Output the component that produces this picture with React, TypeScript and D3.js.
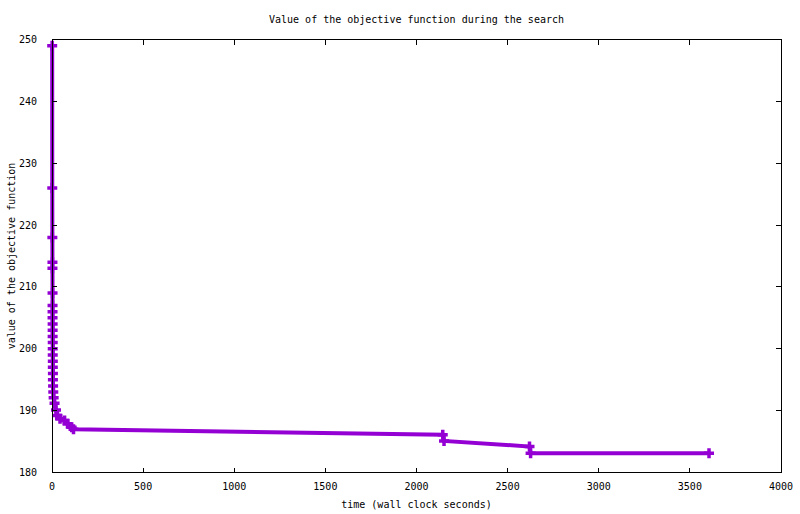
import { useEffect, useRef } from 'react';
import * as d3 from 'd3';

// search trace: wall clock seconds vs objective value
const times = [
  1, 1.5, 2, 2.5, 2.5, 3, 3, 3, 3, 3.5, 3.5, 3.5, 4, 4, 4, 4.5, 4.5, 5, 5, 6, 7,
  9, 14, 22, 30, 44, 69, 85, 108, 118, 2144, 2151, 2620, 2626, 3605,
];
const values = [
  249, 226, 218, 214, 213, 209, 207, 206, 205, 204, 203, 202, 201, 200, 199, 198,
  197, 196, 195, 194, 193, 192.1, 191.2, 190.1, 189.2, 188.7, 188.4, 187.9, 187.3,
  187.0, 186.1, 185.1, 184.2, 183.1, 183.1,
];
const xTicks = [0, 500, 1000, 1500, 2000, 2500, 3000, 3500, 4000];
const yTicks = [180, 190, 200, 210, 220, 230, 240, 250];

const W = 800;
const H = 514;
const FONT = '"DejaVu Sans Mono", "Liberation Mono", monospace';
const PURPLE = '#9400d3';

export default function App() {
  const svgRef = useRef<SVGSVGElement>(null);

  useEffect(() => {
    if (!svgRef.current) return;
    const svg = d3.select(svgRef.current);
    svg.selectAll('*').remove();

    const left = 52;
    const right = 781;
    const top = 39.5;
    const bottom = 472.5;

    const x = d3.scaleLinear().domain([0, 4000]).range([left, right]);
    const y = d3.scaleLinear().domain([180, 250]).range([bottom, top]);

    svg.append('rect').attr('width', W).attr('height', H).attr('fill', '#fff');

    const text = (tx: number, ty: number, s: string, anchor = 'middle') =>
      svg.append('text')
        .attr('x', tx)
        .attr('y', ty)
        .attr('text-anchor', anchor)
        .attr('font-family', FONT)
        .attr('font-size', '10px')
        .attr('fill', '#000')
        .text(s);

    // Title and axis labels
    text((left + right) / 2, 23, 'Value of the objective function during the search');
    text((left + right) / 2, 507.5, 'time (wall clock seconds)');
    text(0, 0, 'value of the objective function')
      .attr('transform', `translate(15, ${(top + bottom) / 2}) rotate(-90)`);

    // Tick labels
    xTicks.forEach((t) => text(x(t), 490, String(t)));
    yTicks.forEach((t) => text(37, y(t) + 3.5, String(t), 'end'));

    // Data line and markers
    const pts: [number, number][] = times.map((t, i) => [t, values[i]]);
    const line = d3.line<[number, number]>()
      .x((d) => x(d[0]))
      .y((d) => y(d[1]));

    svg.append('path')
      .attr('d', line(pts) as string)
      .attr('fill', 'none')
      .attr('stroke', PURPLE)
      .attr('stroke-width', 4)
      .attr('stroke-linejoin', 'miter');

    svg.append('g')
      .selectAll('path')
      .data(pts)
      .join('path')
      .attr('transform', (d) => `translate(${x(d[0])}, ${y(d[1])})`)
      .attr('d', 'M-5,0H5M0,-5V5')
      .attr('fill', 'none')
      .attr('stroke', PURPLE)
      .attr('stroke-width', 3.5);

    // Ticks (mirrored, pointing inward)
    const tk = svg.append('g')
      .attr('stroke', '#000')
      .attr('stroke-width', 1)
      .attr('shape-rendering', 'crispEdges');
    xTicks.forEach((t) => {
      tk.append('line').attr('x1', x(t)).attr('x2', x(t)).attr('y1', bottom).attr('y2', bottom - 5);
      tk.append('line').attr('x1', x(t)).attr('x2', x(t)).attr('y1', top).attr('y2', top + 5);
    });
    yTicks.forEach((t) => {
      tk.append('line').attr('x1', left).attr('x2', left + 5).attr('y1', y(t)).attr('y2', y(t));
      tk.append('line').attr('x1', right).attr('x2', right - 5).attr('y1', y(t)).attr('y2', y(t));
    });

    // Border on top of the data
    svg.append('rect')
      .attr('x', left)
      .attr('y', top)
      .attr('width', right - left)
      .attr('height', bottom - top)
      .attr('fill', 'none')
      .attr('stroke', '#000')
      .attr('stroke-width', 1)
      .attr('shape-rendering', 'crispEdges');
  }, []);

  return (
    <svg
      ref={svgRef}
      width={W}
      height={H}
      style={{ position: 'absolute', left: 0, top: 0, display: 'block' }}
    />
  );
}
